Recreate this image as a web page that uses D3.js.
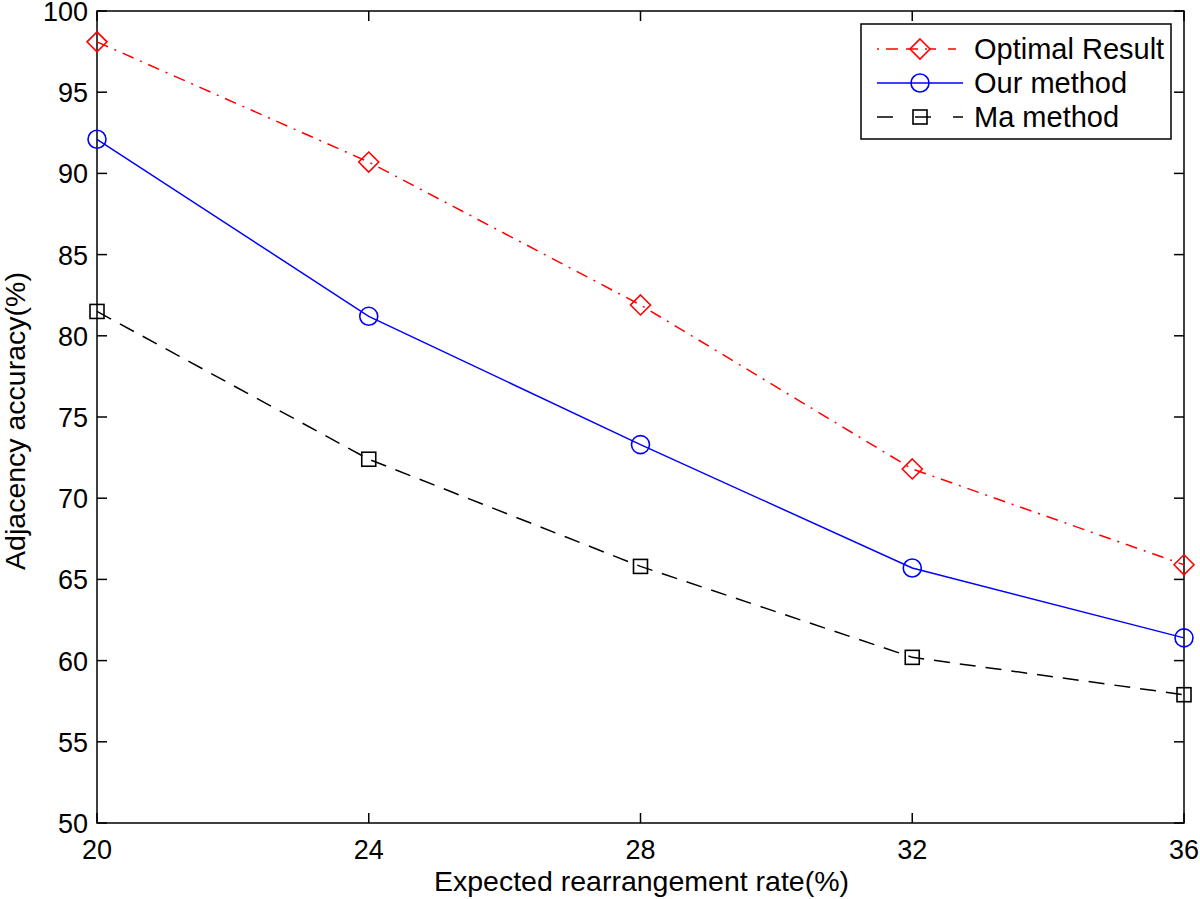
<!DOCTYPE html>
<html><head><meta charset="utf-8">
<script src="https://cdn.jsdelivr.net/npm/d3@7"></script>
<style>body{margin:0;background:#fff}svg{display:block}text{font-family:"Liberation Sans",Arial,sans-serif}</style>
</head><body><svg id="c" width="1200" height="899"></svg>
<script>
const xValues = [20, 24, 28, 32, 36];
const optimal = [98.1, 90.7, 81.9, 71.8, 65.9];
const ourMethod = [92.1, 81.2, 73.3, 65.7, 61.4];
const maMethod = [81.5, 72.4, 65.8, 60.2, 57.9];
const xTicks = [20, 24, 28, 32, 36];
const yTicks = [50, 55, 60, 65, 70, 75, 80, 85, 90, 95, 100];
const seriesNames = ["Optimal Result", "Our method", "Ma method"];

const svg = d3.select("#c");
const L = 97, R = 1184, T = 11, B = 823;
const x = d3.scaleLinear().domain([20, 36]).range([L, R]);
const y = d3.scaleLinear().domain([50, 100]).range([B, T]);
const fs = 27;

svg.append("rect").attr("x", L).attr("y", T).attr("width", R - L).attr("height", B - T)
  .attr("fill", "none").attr("stroke", "#000").attr("stroke-width", 1.5);

const tl = 10;
const g = svg.append("g");
xTicks.forEach(v => {
  const px = x(v);
  g.append("line").attr("x1", px).attr("x2", px).attr("y1", B).attr("y2", B - tl).attr("stroke", "#000").attr("stroke-width", 1.5);
  g.append("line").attr("x1", px).attr("x2", px).attr("y1", T).attr("y2", T + tl).attr("stroke", "#000").attr("stroke-width", 1.5);
  g.append("text").attr("x", px).attr("y", B + 36).attr("text-anchor", "middle").attr("font-size", fs).text(v);
});
yTicks.forEach(v => {
  const py = y(v);
  g.append("line").attr("x1", L).attr("x2", L + tl).attr("y1", py).attr("y2", py).attr("stroke", "#000").attr("stroke-width", 1.5);
  g.append("line").attr("x1", R).attr("x2", R - tl).attr("y1", py).attr("y2", py).attr("stroke", "#000").attr("stroke-width", 1.5);
  g.append("text").attr("x", L - 9).attr("y", py + 10).attr("text-anchor", "end").attr("font-size", fs).text(v);
});

svg.append("text").attr("x", (L + R) / 2 + 1).attr("y", 891).attr("text-anchor", "middle").attr("font-size", 28.5).text("Expected rearrangement rate(%)");
svg.append("text").attr("transform", `translate(25,421) rotate(-90)`).attr("text-anchor", "middle").attr("font-size", 28.5).text("Adjacency accuracy(%)");

const styles = [
  {data: optimal, color: "#ff0000", dash: "12,7,2,7", marker: "diamond"},
  {data: ourMethod, color: "#0000ff", dash: null, marker: "circle"},
  {data: maMethod, color: "#000000", dash: "16,10", marker: "square"}
];
const line = d3.line().x((d, i) => x(xValues[i])).y(d => y(d));

function drawMarker(sel, type, cx, cy, color) {
  if (type === "diamond") {
    const s = 10;
    sel.append("path").attr("d", `M${cx},${cy - s}L${cx + s},${cy}L${cx},${cy + s}L${cx - s},${cy}Z`)
      .attr("fill", "none").attr("stroke", color).attr("stroke-width", 1.6);
  } else if (type === "circle") {
    sel.append("circle").attr("cx", cx).attr("cy", cy).attr("r", 9).attr("fill", "none").attr("stroke", color).attr("stroke-width", 1.6);
  } else {
    sel.append("rect").attr("x", cx - 7).attr("y", cy - 7).attr("width", 14).attr("height", 14).attr("fill", "none").attr("stroke", color).attr("stroke-width", 1.6);
  }
}

styles.forEach(s => {
  svg.append("path").datum(s.data).attr("d", line).attr("fill", "none").attr("stroke", s.color)
    .attr("stroke-width", 1.5).attr("stroke-dasharray", s.dash);
  s.data.forEach((d, i) => drawMarker(svg, s.marker, x(xValues[i]), y(d), s.color));
});

const lg = svg.append("g");
lg.append("rect").attr("x", 861).attr("y", 24).attr("width", 310).attr("height", 115).attr("fill", "#fff").attr("stroke", "#000").attr("stroke-width", 1.5);
seriesNames.forEach((n, i) => {
  const ly = 49 + i * 34;
  const s = styles[i];
  lg.append("line").attr("x1", 877).attr("x2", 963).attr("y1", ly).attr("y2", ly).attr("stroke", s.color).attr("stroke-width", 1.5)
    .attr("stroke-dasharray", i === 0 ? "2,7,12,8,12,7,2" : (i === 2 ? "16,22" : null));
  drawMarker(lg, s.marker, 920, ly, s.color);
  lg.append("text").attr("x", 974).attr("y", ly + 10).attr("font-size", 29).text(n);
});
</script></body></html>
